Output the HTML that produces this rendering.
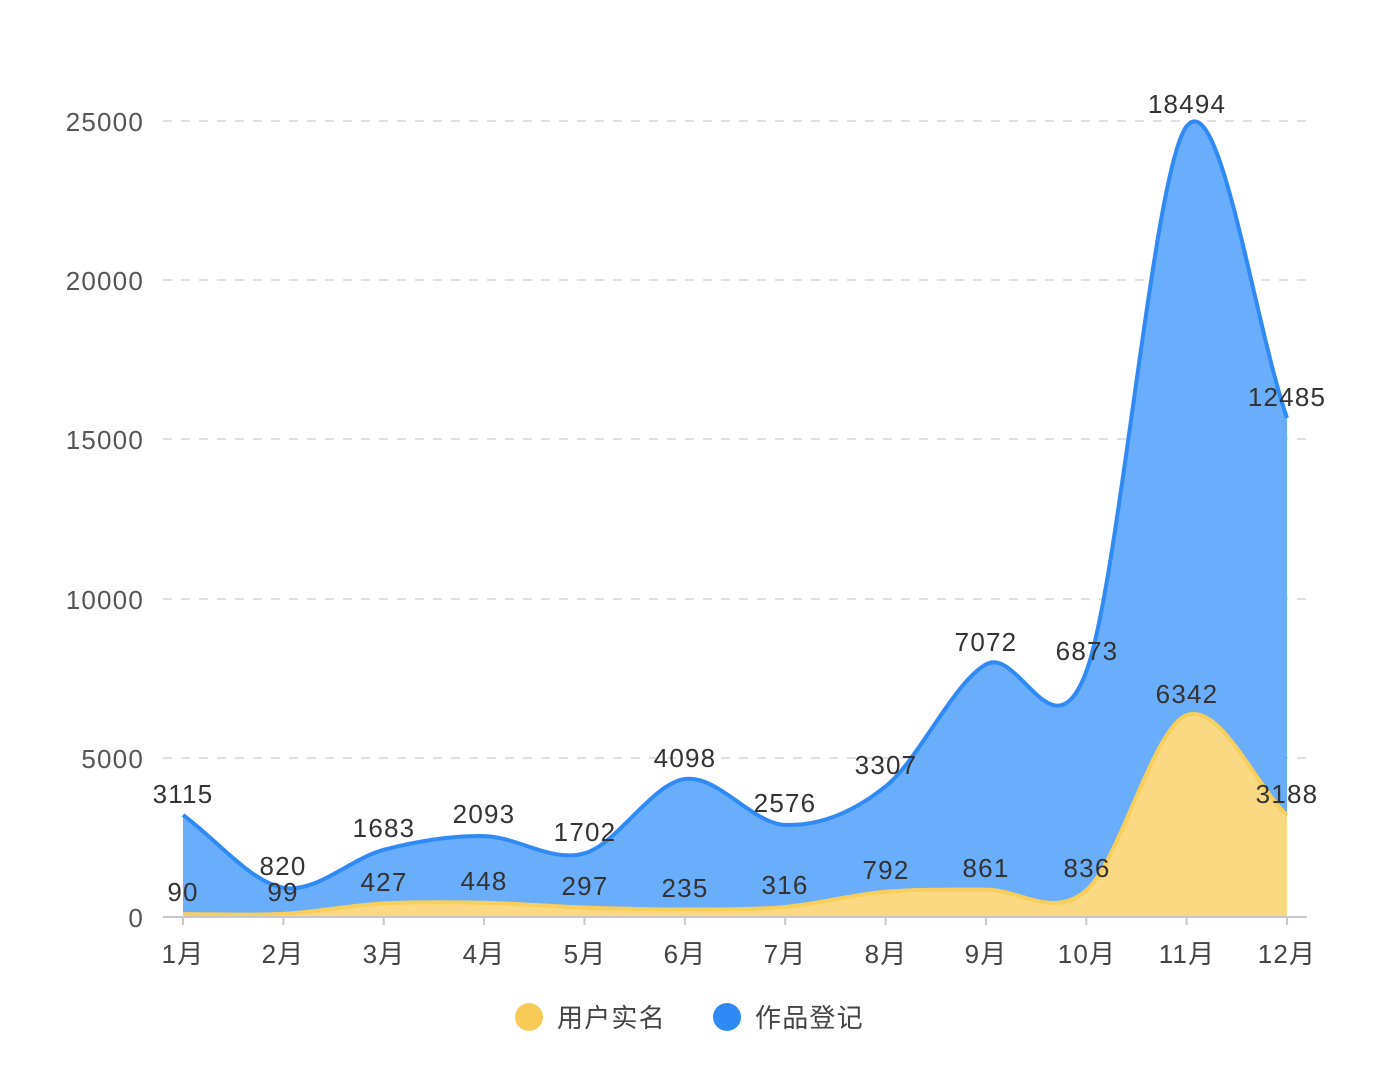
<!DOCTYPE html>
<html><head><meta charset="utf-8">
<style>
html,body{margin:0;padding:0;background:#fff;}
svg text{font-family:"Liberation Sans","Noto Sans CJK SC",sans-serif;}
.n{letter-spacing:1.2px;}
</style></head>
<body>
<svg id="c" width="1382" height="1082" viewBox="0 0 1382 1082" xmlns="http://www.w3.org/2000/svg">
<g stroke="#e0e0e0" stroke-width="2" stroke-dasharray="9,9">
<line x1="163" y1="121" x2="1307" y2="121"/>
<line x1="163" y1="280" x2="1307" y2="280"/>
<line x1="163" y1="439" x2="1307" y2="439"/>
<line x1="163" y1="599" x2="1307" y2="599"/>
<line x1="163" y1="758" x2="1307" y2="758"/>
</g>
<g font-size="26" fill="#555" text-anchor="end" class="n">
<text x="144" y="131">25000</text>
<text x="144" y="290">20000</text>
<text x="144" y="449">15000</text>
<text x="144" y="609">10000</text>
<text x="144" y="768">5000</text>
<text x="144" y="927">0</text>
</g>
<path id="blueA" fill="#69adfb"/>
<path id="yelA" fill="#fbd983"/>
<path id="blueL" fill="none" stroke="#2f8af5" stroke-width="4"/>
<path id="yelL" fill="none" stroke="#f8cf5a" stroke-width="4"/>
<line x1="163" y1="917" x2="1307" y2="917" stroke="#c8c8cc" stroke-width="2"/>
<g id="ticks" stroke="#c8c8cc" stroke-width="2"></g>
<g font-size="26" fill="#444" text-anchor="middle" class="n">
<text x="183" y="963">1月</text><text x="283" y="963">2月</text><text x="384" y="963">3月</text><text x="484" y="963">4月</text><text x="585" y="963">5月</text><text x="685" y="963">6月</text><text x="785" y="963">7月</text><text x="886" y="963">8月</text><text x="986" y="963">9月</text><text x="1087" y="963">10月</text><text x="1187" y="963">11月</text><text x="1287" y="963">12月</text>
</g>
<g font-size="26" fill="#333" text-anchor="middle" class="n">
<text x="183" y="803">3115</text><text x="283" y="875">820</text><text x="384" y="837">1683</text><text x="484" y="823">2093</text><text x="585" y="841">1702</text><text x="685" y="767">4098</text><text x="785" y="812">2576</text><text x="886" y="774">3307</text><text x="986" y="651">7072</text><text x="1087" y="660">6873</text><text x="1187" y="113">18494</text><text x="1287" y="406">12485</text>
<text x="183" y="901">90</text><text x="283" y="901">99</text><text x="384" y="891">427</text><text x="484" y="890">448</text><text x="585" y="895">297</text><text x="685" y="897">235</text><text x="785" y="894">316</text><text x="886" y="879">792</text><text x="986" y="877">861</text><text x="1087" y="877">836</text><text x="1187" y="703">6342</text><text x="1287" y="803">3188</text>
</g>
<circle cx="529" cy="1017" r="14" fill="#f8cb56"/>
<text x="557" y="1027" font-size="26" fill="#444" class="n">用户实名</text>
<circle cx="727" cy="1017" r="14" fill="#2f8af5"/>
<text x="755" y="1027" font-size="26" fill="#444" class="n">作品登记</text>
</svg>
<script>
var yel=[90,99,427,448,297,235,316,792,861,836,6342,3188];
var blu=[3115,820,1683,2093,1702,4098,2576,3307,7072,6873,18494,12485];
var X=function(i){return 183+i*(1287-183)/11;};
var Y=function(v){return 917-v*(796/25000);};
function pts(a){return a.map(function(v,i){return [X(i),Y(v)];});}
function smooth(p){
  var n=p.length,s=0.33,cp0=[],cp1=[];
  for(var i=0;i<n;i++){
    var pr=p[Math.max(0,i-1)],nx=p[Math.min(n-1,i+1)],c=p[i];
    var dx=nx[0]-pr[0],dy=nx[1]-pr[1];
    var l0=Math.abs(c[0]-pr[0]),l1=Math.abs(nx[0]-c[0]);
    var r=(l0+l1)?l1/(l0+l1):0.5;
    if(i==0||i==n-1){r=(i==0)?1:0;}
    cp1[i]=[c[0]+dx*s*r,c[1]+dy*s*r];
    cp0[i]=[c[0]-dx*s*(1-r),c[1]-dy*s*(1-r)];
  }
  var d="M"+p[0][0]+","+p[0][1];
  for(var i=1;i<n;i++){d+=" C"+cp1[i-1][0]+","+cp1[i-1][1]+" "+cp0[i][0]+","+cp0[i][1]+" "+p[i][0]+","+p[i][1];}
  return d;
}
var st=yel.map(function(v,i){return v+blu[i];});
var yp=pts(yel),bp=pts(st);
var yd=smooth(yp),bd=smooth(bp);
var close=" L1287,917 L183,917 Z";
document.getElementById('yelL').setAttribute('d',yd);
document.getElementById('blueL').setAttribute('d',bd);
document.getElementById('yelA').setAttribute('d',yd+close);
document.getElementById('blueA').setAttribute('d',bd+close);
var t="";for(var i=0;i<12;i++){var x=X(i);t+='<line x1="'+x+'" y1="917" x2="'+x+'" y2="925"/>';}
document.getElementById('ticks').innerHTML=t;
</script>
</body></html>
